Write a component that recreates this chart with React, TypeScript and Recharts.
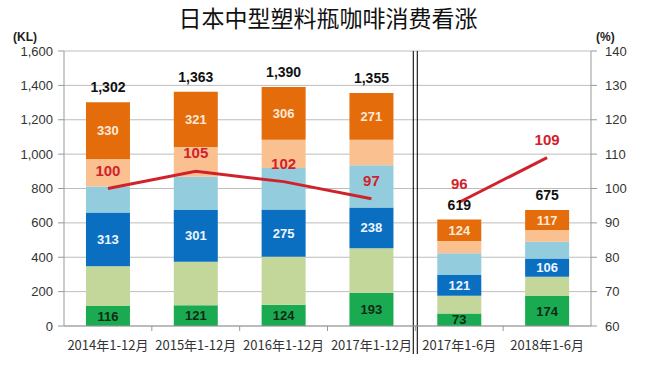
import {
  ComposedChart,
  Bar,
  Line,
  XAxis,
  YAxis,
  CartesianGrid,
  LabelList,
  ReferenceLine,
} from "recharts";

const periods = ["2014年1-12月", "2015年1-12月", "2016年1-12月", "2017年1-12月", "2017年1-6月", "2018年1-6月"];
const green = [116, 121, 124, 193, 73, 174];
const lightGreen = [232, 253, 279, 259, 103, 113];
const blue = [313, 301, 275, 238, 121, 106];
const lightBlue = [150, 193, 242, 246, 126, 97];
const lightOrange = [161, 174, 164, 148, 72, 68];
const orange = [330, 321, 306, 271, 124, 117];
const totals = [1302, 1363, 1390, 1355, 619, 675];
const yearRate = [100, 105, 102, 97, null, null];
const halfRate = [null, null, null, null, 96, 109];
const leftTicks = [0, 200, 400, 600, 800, 1000, 1200, 1400, 1600];
const rightTicks = [60, 70, 80, 90, 100, 110, 120, 130, 140];

const data = periods.map((period, i) => ({
  period,
  green: green[i],
  lightGreen: lightGreen[i],
  blue: blue[i],
  lightBlue: lightBlue[i],
  lightOrange: lightOrange[i],
  orange: orange[i],
  total: totals[i],
  yearRate: yearRate[i],
  halfRate: halfRate[i],
}));

const NUM_FONT = "'Liberation Sans', Arial, sans-serif";
const CJK_FONT = "'Noto Sans CJK SC', 'Noto Sans', sans-serif";
const RED = "#d0222c";

function fmt(v: any) {
  return Number(v).toLocaleString("en-US");
}

// double line between the yearly and half-year groups
function SplitLine(props: any) {
  const { x1, x2, y1, y2 } = props;
  const top = Math.min(y1, y2);
  const bottom = Math.max(y1, y2) + 28;
  return (
    <g>
      <line x1={x1 - 2} x2={x2 - 2} y1={top} y2={bottom} stroke="#222" strokeWidth={1.2} />
      <line x1={x1 + 2} x2={x2 + 2} y1={top} y2={bottom} stroke="#222" strokeWidth={1.2} />
    </g>
  );
}

// small tick mark below the x axis at a category boundary
function BoundaryTick(props: any) {
  const { x1, y1, y2 } = props;
  const bottom = Math.max(y1, y2);
  return <line x1={x1} x2={x1} y1={bottom} y2={bottom + 5} stroke="#999" strokeWidth={1} />;
}

const segLabel = (fill: string) => ({
  fill,
  fontSize: 13,
  fontWeight: 700,
  fontFamily: NUM_FONT,
});

export default function App() {
  return (
    <div style={{ position: "absolute", left: 0, top: 0, width: 646, height: 365, background: "#fff" }}>
      <div
        style={{
          position: "absolute",
          left: 0,
          top: 2,
          width: 656,
          textAlign: "center",
          fontFamily: CJK_FONT,
          fontSize: 23,
          color: "#111",
          lineHeight: "30px",
        }}
      >
        日本中型塑料瓶咖啡消费看涨
      </div>
      <div style={{ position: "absolute", left: 13, top: 30, fontFamily: NUM_FONT, fontSize: 12, fontWeight: 700, color: "#222" }}>
        (KL)
      </div>
      <div style={{ position: "absolute", left: 596, top: 30, fontFamily: NUM_FONT, fontSize: 12, fontWeight: 700, color: "#222" }}>
        (%)
      </div>
      <ComposedChart
        width={646}
        height={365}
        data={data}
        margin={{ top: 51, right: 0, bottom: 0, left: 0 }}
        barCategoryGap="25%"
      >
        <CartesianGrid vertical={false} stroke="#bdbdbd" yAxisId="left" />
        <XAxis
          dataKey="period"
          height={39}
          tickLine={false}
          tickMargin={9}
          axisLine={{ stroke: "#999" }}
          tick={{ fill: "#333", fontSize: 13, fontFamily: CJK_FONT }}
          interval={0}
        />
        <YAxis
          yAxisId="left"
          width={64}
          domain={[0, 1600]}
          ticks={leftTicks}
          tickFormatter={fmt}
          tickSize={6}
          tickMargin={5}
          axisLine={{ stroke: "#999" }}
          tickLine={{ stroke: "#999" }}
          tick={{ fill: "#333", fontSize: 13, fontFamily: NUM_FONT }}
        />
        <YAxis
          yAxisId="right"
          orientation="right"
          width={55}
          domain={[60, 140]}
          ticks={rightTicks}
          tickSize={6}
          tickMargin={8}
          axisLine={{ stroke: "#999" }}
          tickLine={{ stroke: "#999" }}
          tick={{ fill: "#333", fontSize: 13, fontFamily: NUM_FONT }}
        />
        <Bar dataKey="green" stackId="a" yAxisId="left" fill="#1aab52" isAnimationActive={false}>
          <LabelList dataKey="green" position="center" style={segLabel("#0f2a14")} />
        </Bar>
        <Bar dataKey="lightGreen" stackId="a" yAxisId="left" fill="#c4d79b" isAnimationActive={false} />
        <Bar dataKey="blue" stackId="a" yAxisId="left" fill="#0a6fc0" isAnimationActive={false}>
          <LabelList dataKey="blue" position="center" style={segLabel("#eef5ff")} />
        </Bar>
        <Bar dataKey="lightBlue" stackId="a" yAxisId="left" fill="#93cddd" isAnimationActive={false} />
        <Bar dataKey="lightOrange" stackId="a" yAxisId="left" fill="#fac08f" isAnimationActive={false} />
        <Bar dataKey="orange" stackId="a" yAxisId="left" fill="#e46c0a" isAnimationActive={false}>
          <LabelList dataKey="orange" position="center" style={segLabel("#fde9d9")} />
          <LabelList
            dataKey="total"
            position="top"
            offset={10}
            formatter={fmt}
            style={{ fill: "#111", fontSize: 14, fontWeight: 700, fontFamily: NUM_FONT }}
          />
        </Bar>
        <Line
          dataKey="yearRate"
          yAxisId="right"
          stroke={RED}
          strokeWidth={3}
          dot={false}
          activeDot={false}
          isAnimationActive={false}
        >
          <LabelList
            dataKey="yearRate"
            position="top"
            offset={13}
            style={{ fill: RED, fontSize: 15, fontWeight: 700, fontFamily: NUM_FONT }}
          />
        </Line>
        <Line
          dataKey="halfRate"
          yAxisId="right"
          stroke={RED}
          strokeWidth={3}
          dot={false}
          activeDot={false}
          isAnimationActive={false}
        >
          <LabelList
            dataKey="halfRate"
            position="top"
            offset={13}
            style={{ fill: RED, fontSize: 15, fontWeight: 700, fontFamily: NUM_FONT }}
          />
        </Line>
        {periods.slice(1).map((p) => (
          <ReferenceLine key={p} x={p} position="start" yAxisId="left" stroke="none" shape={BoundaryTick} />
        ))}
        <ReferenceLine x="2017年1-6月" position="start" yAxisId="left" shape={SplitLine} />
      </ComposedChart>
    </div>
  );
}
